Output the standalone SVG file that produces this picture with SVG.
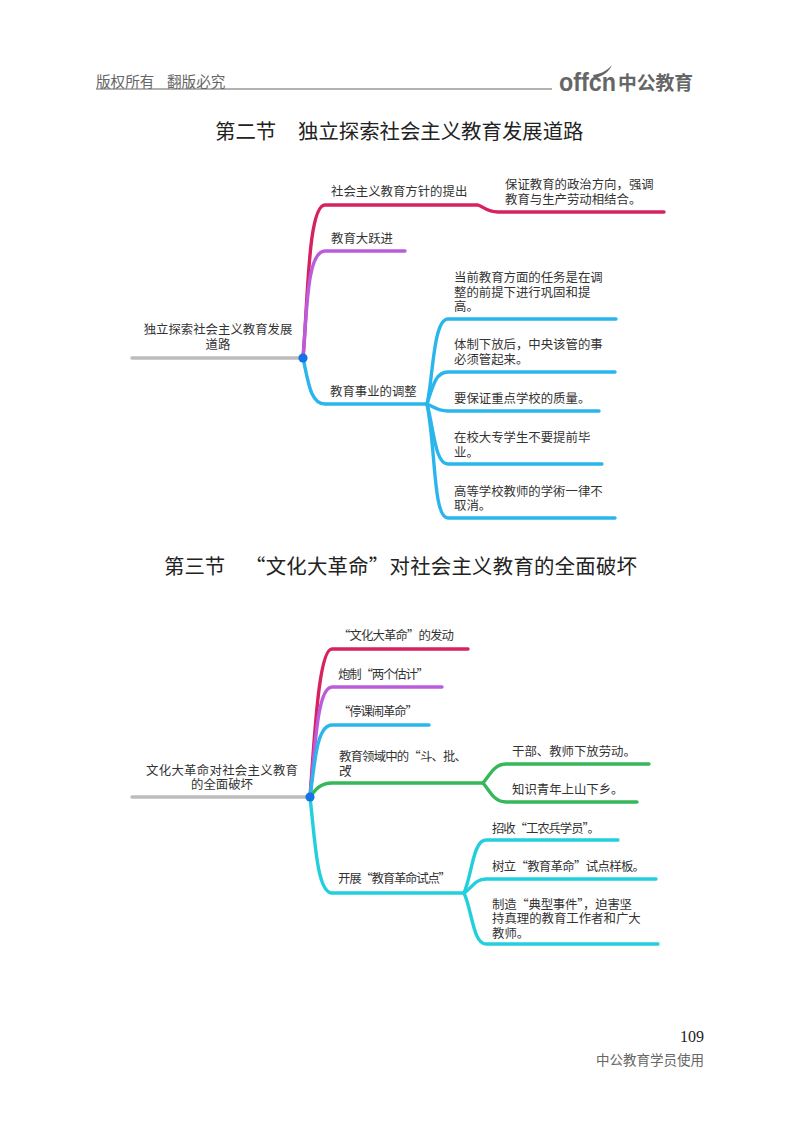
<svg xmlns="http://www.w3.org/2000/svg" width="800" height="1124" viewBox="0 0 800 1124">
<style>
text{font-family:"Noto Sans CJK SC","Liberation Sans",sans-serif;fill:#333}
.t{font-size:12.4px}
.h{font-size:20.4px;fill:#222}
.c{fill:none;stroke-width:3.4;stroke-linecap:round;stroke-linejoin:round}
.red{stroke:#d6235f}.pur{stroke:#bb5cdc}.blu{stroke:#2ab6ec}.grn{stroke:#35b75a}.cya{stroke:#22cfdd}.gry{stroke:#bdbdbd}
.m{text-anchor:middle}
</style>
<g id="header">
<text x="96" y="87" style="font-size:14.6px;fill:#666">版权所有</text>
<text x="167" y="87" style="font-size:14.6px;fill:#666">翻版必究</text>
<line x1="96" y1="89" x2="552" y2="89" stroke="#666" stroke-width="1.2"/>
<text x="559" y="91" textLength="57" lengthAdjust="spacingAndGlyphs" style="font-family:'Liberation Sans',sans-serif;font-size:25px;font-weight:bold;fill:#666">offcn</text>
<path d="M593 75C600 74 607 71 612 65C609 72 602 77 594 78Z" fill="#666"/>
<text x="618" y="90" style="font-size:18.8px;font-weight:bold;fill:#666">中公教育</text>
</g>
<text id="title-2a" class="h" x="215" y="139">第二节</text>
<text id="title-2b" class="h" x="298" y="139">独立探索社会主义教育发展道路</text>
<text id="title-3a" class="h" x="164" y="574">第三节</text>
<text id="title-3b" class="h" x="245" y="574" textLength="392" lengthAdjust="spacing">“文化大革命”对社会主义教育的全面破坏</text>

<g id="connectors">
<path class="c gry" d="M132 358H303"/>
<path class="c red" d="M303 358C308 300 308 205 325 205H478C484 207 487 212 498 212H664"/>
<path class="c pur" d="M303 358C307 310 307 251 325 251H405"/>
<path class="c blu" d="M303 358C308 380 310 404 325 404H427"/>
<path class="c blu" d="M427 404C433 380 433 319 448 319H616"/>
<path class="c blu" d="M427 404C433 385 436 372 448 372H615"/>
<path class="c blu" d="M427 404C434 407 437 411 448 411H599"/>
<path class="c blu" d="M427 404C434 430 435 464 448 464H602"/>
<path class="c blu" d="M427 404C436 450 433 518 448 518H615"/>

<path class="c gry" d="M132 797H310"/>
<path class="c red" d="M310 797C315 730 319 649 332 649H468"/>
<path class="c pur" d="M310 797C315 750 317 687 332 687H442"/>
<path class="c blu" d="M310 797C315 760 317 725 332 725H429"/>
<path class="c grn" d="M310 797C315 790 320 783 332 783H483"/>
<path class="c grn" d="M483 783C490 775 494 764 506 764H649"/>
<path class="c grn" d="M483 783C490 791 494 802 506 802H637"/>
<path class="c cya" d="M310 797C315 840 317 893 332 893H464"/>
<path class="c cya" d="M464 893C472 875 473 840 486 840H618"/>
<path class="c cya" d="M464 893C472 888 475 879 486 879H656"/>
<path class="c cya" d="M464 893C472 910 473 944 486 944H658"/>
</g>

<g id="root-1">
<text class="t m" x="218" y="333.500">独立探索社会主义教育发展</text>
<text class="t m" x="218" y="348.500">道路</text>
<circle cx="303" cy="358" r="4.6" fill="#1473e6"/>
</g>
<g id="n1"><text class="t" x="331" y="195.500">社会主义教育方针的提出</text></g>
<g id="n1a"><text class="t" x="505" y="188.500">保证教育的政治方向，强调</text><text class="t" x="505" y="203.500">教育与生产劳动相结合。</text></g>
<g id="n2"><text class="t" x="331" y="242.500">教育大跃进</text></g>
<g id="n3"><text class="t" x="330" y="395.500">教育事业的调整</text></g>
<g id="n3a"><text class="t" x="454" y="281.500">当前教育方面的任务是在调</text><text class="t" x="454" y="296.500">整的前提下进行巩固和提</text><text class="t" x="454" y="311">高。</text></g>
<g id="n3b"><text class="t" x="454" y="348.500">体制下放后，中央该管的事</text><text class="t" x="454" y="363.500">必须管起来。</text></g>
<g id="n3c"><text class="t" x="454" y="402.500">要保证重点学校的质量。</text></g>
<g id="n3d"><text class="t" x="454" y="441.500">在校大专学生不要提前毕</text><text class="t" x="454" y="456.500">业。</text></g>
<g id="n3e"><text class="t" x="454" y="495.500">高等学校教师的学術一律不</text><text class="t" x="454" y="510">取消。</text></g>

<g id="root-2">
<text class="t m" x="222" y="774.500" textLength="152">文化大革命对社会主义教育</text>
<text class="t m" x="222" y="788.500">的全面破坏</text>
<circle cx="310" cy="797" r="4.6" fill="#1473e6"/>
</g>
<g id="m1"><text class="t" x="338" y="639.500" textLength="116">“文化大革命”的发动</text></g>
<g id="m2"><text class="t" x="338" y="678.500" textLength="91">炮制“两个估计”</text></g>
<g id="m3"><text class="t" x="338" y="715.500" textLength="80">“停课闹革命”</text></g>
<g id="m4"><text class="t" x="339" y="760.500" textLength="128">教育领域中的“斗、批、</text><text class="t" x="339" y="775.500" textLength="20">改”</text></g>
<g id="m4a"><text class="t" x="512" y="755.500">干部、教师下放劳动。</text></g>
<g id="m4b"><text class="t" x="512" y="793.500">知识青年上山下乡。</text></g>
<g id="m5"><text class="t" x="338" y="882.500" textLength="113">开展“教育革命试点”</text></g>
<g id="m5a"><text class="t" x="492" y="832.500" textLength="108">招收“工农兵学员”。</text></g>
<g id="m5b"><text class="t" x="492" y="870.500" textLength="153">树立“教育革命”试点样板。</text></g>
<g id="m5c"><text class="t" x="492" y="908.500" textLength="140">制造“典型事件”，迫害坚</text><text class="t" x="492" y="922.500">持真理的教育工作者和广大</text><text class="t" x="492" y="937.500">教师。</text></g>

<g id="footer">
<text x="704" y="1042" text-anchor="end" style="font-family:'Liberation Serif',serif;font-size:16px;fill:#222">109</text>
<text x="704" y="1064.500" text-anchor="end" style="font-size:13.5px;fill:#666">中公教育学员使用</text>
</g>
</svg>
